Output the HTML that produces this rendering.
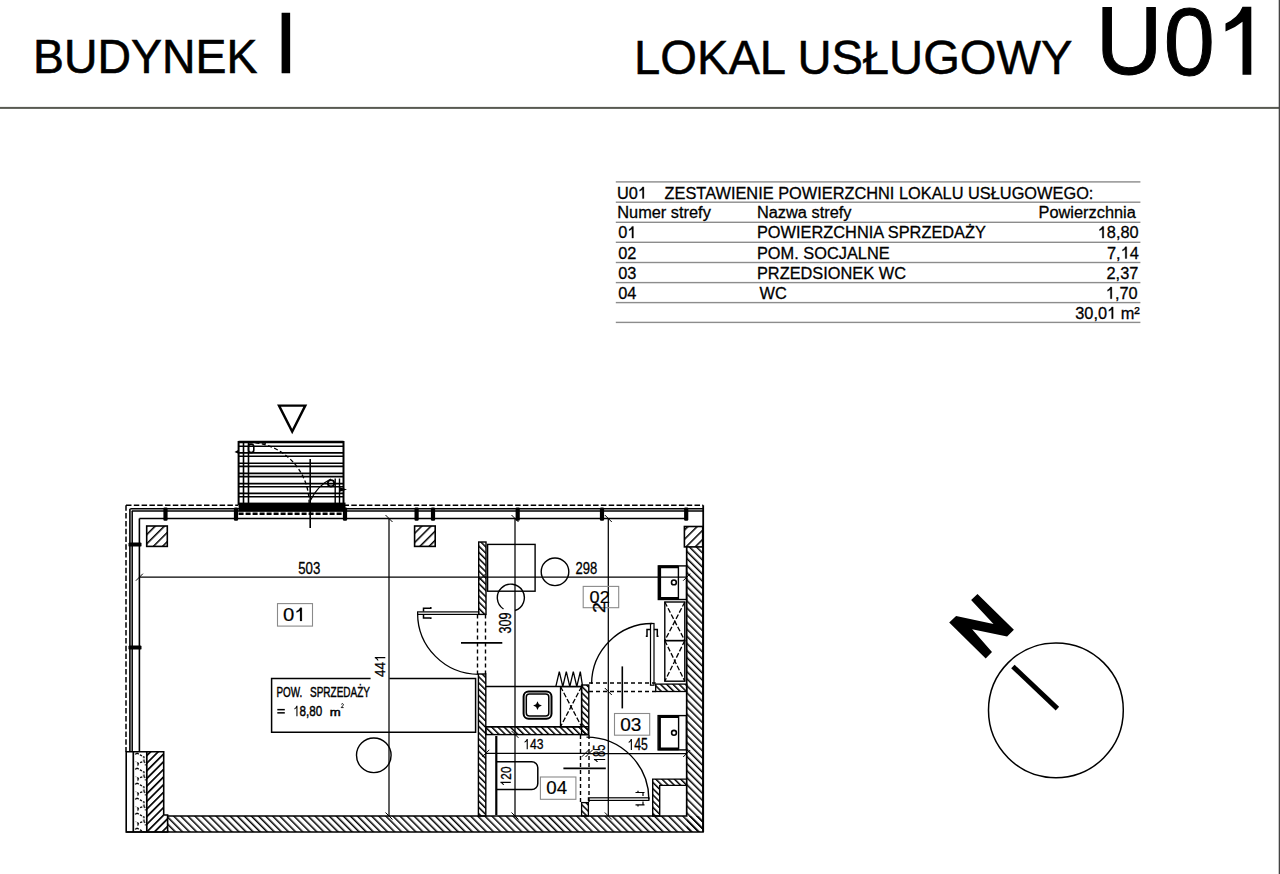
<!DOCTYPE html>
<html><head><meta charset="utf-8"><title>Budynek I - Lokal U01</title>
<style>html,body{margin:0;padding:0;background:#fff;width:1280px;height:874px;overflow:hidden;position:relative;font-family:"Liberation Sans",sans-serif}</style>
</head><body>
<svg width="1280" height="874" viewBox="0 0 1280 874" style="position:absolute;left:0;top:0" font-family="Liberation Sans, sans-serif"><defs>
<pattern id="hb" width="5" height="5" patternUnits="userSpaceOnUse" patternTransform="rotate(-45)"><rect x="0" y="0" width="1.5" height="5" fill="#000"/></pattern>
<pattern id="hf" width="5.4" height="5.4" patternUnits="userSpaceOnUse" patternTransform="rotate(45)"><rect x="0" y="0" width="1.7" height="5.4" fill="#000"/></pattern>
<pattern id="hs" width="4.4" height="4.4" patternUnits="userSpaceOnUse" patternTransform="rotate(-45)"><rect x="0" y="0" width="1.5" height="4.4" fill="#000"/></pattern>
<pattern id="hc" width="6.5" height="5" patternUnits="userSpaceOnUse" patternTransform="rotate(45)"><rect x="0" y="0" width="1.5" height="5" fill="#000"/></pattern>
<pattern id="conc" width="13.2" height="15" patternUnits="userSpaceOnUse" x="133.4" y="752"><path d="M3.5,1 L10.5,5 L10.5,9 L5,11.5 L2.5,9.5 M3.5,1 L1.5,3 M10.5,9 L12.5,13.5 M5,11.5 L4,15" fill="none" stroke="#000" stroke-width="1.3" stroke-dasharray="2.2 1.3"/></pattern>
</defs>
<text transform="matrix(0.9699,0,0,1,33.07,72.50)" font-size="47.85" fill="#000"  stroke="#000" stroke-width="0.6">BUDYNEK</text>
<text transform="matrix(1.0101,0,0,1,273.65,72.65)" font-size="86.69" fill="#000"  stroke="#000" stroke-width="0.3">I</text>
<text transform="matrix(0.9818,0,0,1,634.06,74.35)" font-size="48.03" fill="#000"  stroke="#000" stroke-width="0.5">LOKAL USŁUGOWY</text>
<text transform="matrix(0.9535,0,0,1,1095.73,74.20)" font-size="97.02" fill="#000"  stroke="#000" stroke-width="1.0">U</text>
<text transform="matrix(0.9479,0,0,1,1163.83,74.70)" font-size="96.77" fill="#000"  stroke="#000" stroke-width="1.0">0</text>
<path d="M1242.5,6.7 L1251.3,6.7 L1251.3,74.7 L1242.5,74.7 L1242.5,21.8 Q1235,28 1225.5,31.6 L1225.5,23.6 Q1231,21 1236,16.5 Q1240.5,12 1242.5,6.7 Z" fill="#000"/>
<rect x="0" y="106.9" width="1280" height="2" fill="#585a52"/>
<rect x="1278.7" y="0" width="1.3" height="874" fill="#444"/>
<rect x="615.8" y="181.2" width="524.6" height="1.4" fill="#8c8c8c"/>
<rect x="615.8" y="201.5" width="524.6" height="1.4" fill="#8c8c8c"/>
<rect x="615.8" y="221.6" width="524.6" height="1.4" fill="#8c8c8c"/>
<rect x="615.8" y="241.6" width="524.6" height="1.4" fill="#8c8c8c"/>
<rect x="615.8" y="261.8" width="524.6" height="1.4" fill="#8c8c8c"/>
<rect x="615.8" y="281.9" width="524.6" height="1.4" fill="#8c8c8c"/>
<rect x="615.8" y="301.9" width="524.6" height="1.4" fill="#8c8c8c"/>
<rect x="615.8" y="321.7" width="524.6" height="1.4" fill="#8c8c8c"/>
<g transform="matrix(0.9610,0,0,1,616.93,198.60)" fill="#000"><text x="0.000" y="0" font-size="17.020" style="white-space:pre" stroke="#000" stroke-width="0.300" >U0</text><path transform="translate(21.758,0) scale(17.020)" d="M0.280,-0.6875 L0.372,-0.6875 L0.372,0 L0.280,0 L0.280,-0.538 Q0.200,-0.476 0.109,-0.438 L0.109,-0.519 Q0.167,-0.546 0.220,-0.592 Q0.259,-0.634 0.280,-0.6875 Z" stroke="#000" stroke-width="0.0176"/></g>
<g transform="matrix(0.9610,0,0,1,664.57,198.60)" fill="#000"><text x="0.000" y="0" font-size="17.020" style="white-space:pre" stroke="#000" stroke-width="0.300" >ZESTAWIENIE POWIERZCHNI LOKALU USŁUGOWEGO:</text></g>
<g transform="matrix(0.9610,0,0,1,617.25,218.10)" fill="#000"><text x="0.000" y="0" font-size="17.020" style="white-space:pre" stroke="#000" stroke-width="0.300" >Numer strefy</text></g>
<g transform="matrix(0.9610,0,0,1,756.95,218.10)" fill="#000"><text x="0.000" y="0" font-size="17.020" style="white-space:pre" stroke="#000" stroke-width="0.300" >Nazwa strefy</text></g>
<g transform="matrix(0.9610,0,0,1,1038.54,218.10)" fill="#000"><text x="0.000" y="0" font-size="17.020" style="white-space:pre" stroke="#000" stroke-width="0.300" >Powierzchnia</text></g>
<g transform="matrix(0.9610,0,0,1,618.25,238.10)" fill="#000"><text x="0.000" y="0" font-size="17.020" style="white-space:pre" stroke="#000" stroke-width="0.300" >0</text><path transform="translate(9.466,0) scale(17.020)" d="M0.280,-0.6875 L0.372,-0.6875 L0.372,0 L0.280,0 L0.280,-0.538 Q0.200,-0.476 0.109,-0.438 L0.109,-0.519 Q0.167,-0.546 0.220,-0.592 Q0.259,-0.634 0.280,-0.6875 Z" stroke="#000" stroke-width="0.0176"/></g>
<g transform="matrix(0.9610,0,0,1,756.95,238.10)" fill="#000"><text x="0.000" y="0" font-size="17.020" style="white-space:pre" stroke="#000" stroke-width="0.300" >POWIERZCHNIA SPRZEDAŻY</text></g>
<g transform="matrix(0.9610,0,0,1,1097.70,238.10)" fill="#000"><path transform="translate(0.000,0) scale(17.020)" d="M0.280,-0.6875 L0.372,-0.6875 L0.372,0 L0.280,0 L0.280,-0.538 Q0.200,-0.476 0.109,-0.438 L0.109,-0.519 Q0.167,-0.546 0.220,-0.592 Q0.259,-0.634 0.280,-0.6875 Z" stroke="#000" stroke-width="0.0176"/><text x="9.466" y="0" font-size="17.020" style="white-space:pre" stroke="#000" stroke-width="0.300" >8,80</text></g>
<g transform="matrix(0.9610,0,0,1,618.25,258.50)" fill="#000"><text x="0.000" y="0" font-size="17.020" style="white-space:pre" stroke="#000" stroke-width="0.300" >02</text></g>
<g transform="matrix(0.9610,0,0,1,756.95,258.50)" fill="#000"><text x="0.000" y="0" font-size="17.020" style="white-space:pre" stroke="#000" stroke-width="0.300" >POM. SOCJALNE</text></g>
<g transform="matrix(0.9610,0,0,1,1107.03,258.50)" fill="#000"><text x="0.000" y="0" font-size="17.020" style="white-space:pre" stroke="#000" stroke-width="0.300" >7,</text><path transform="translate(14.195,0) scale(17.020)" d="M0.280,-0.6875 L0.372,-0.6875 L0.372,0 L0.280,0 L0.280,-0.538 Q0.200,-0.476 0.109,-0.438 L0.109,-0.519 Q0.167,-0.546 0.220,-0.592 Q0.259,-0.634 0.280,-0.6875 Z" stroke="#000" stroke-width="0.0176"/><text x="23.662" y="0" font-size="17.020" style="white-space:pre" stroke="#000" stroke-width="0.300" >4</text></g>
<g transform="matrix(0.9610,0,0,1,618.25,278.60)" fill="#000"><text x="0.000" y="0" font-size="17.020" style="white-space:pre" stroke="#000" stroke-width="0.300" >03</text></g>
<g transform="matrix(0.9610,0,0,1,756.95,278.60)" fill="#000"><text x="0.000" y="0" font-size="17.020" style="white-space:pre" stroke="#000" stroke-width="0.300" >PRZEDSIONEK WC</text></g>
<g transform="matrix(0.9610,0,0,1,1106.50,278.60)" fill="#000"><text x="0.000" y="0" font-size="17.020" style="white-space:pre" stroke="#000" stroke-width="0.300" >2,37</text></g>
<g transform="matrix(0.9610,0,0,1,618.25,298.70)" fill="#000"><text x="0.000" y="0" font-size="17.020" style="white-space:pre" stroke="#000" stroke-width="0.300" >04</text></g>
<g transform="matrix(0.9610,0,0,1,759.62,298.70)" fill="#000"><text x="0.000" y="0" font-size="17.020" style="white-space:pre" stroke="#000" stroke-width="0.300" >WC</text></g>
<g transform="matrix(0.9610,0,0,1,1105.80,298.70)" fill="#000"><path transform="translate(0.000,0) scale(17.020)" d="M0.280,-0.6875 L0.372,-0.6875 L0.372,0 L0.280,0 L0.280,-0.538 Q0.200,-0.476 0.109,-0.438 L0.109,-0.519 Q0.167,-0.546 0.220,-0.592 Q0.259,-0.634 0.280,-0.6875 Z" stroke="#000" stroke-width="0.0176"/><text x="9.466" y="0" font-size="17.020" style="white-space:pre" stroke="#000" stroke-width="0.300" >,70</text></g>
<g transform="matrix(0.9610,0,0,1,1075.24,318.70)" fill="#000"><text x="0.000" y="0" font-size="17.020" style="white-space:pre" stroke="#000" stroke-width="0.300" >30,0</text><path transform="translate(33.128,0) scale(17.020)" d="M0.280,-0.6875 L0.372,-0.6875 L0.372,0 L0.280,0 L0.280,-0.538 Q0.200,-0.476 0.109,-0.438 L0.109,-0.519 Q0.167,-0.546 0.220,-0.592 Q0.259,-0.634 0.280,-0.6875 Z" stroke="#000" stroke-width="0.0176"/><text x="42.594" y="0" font-size="17.020" style="white-space:pre" stroke="#000" stroke-width="0.300" > m²</text></g>
<line x1="238.6" y1="446.3" x2="343.5" y2="446.3" stroke="#000" stroke-width="1.6" />
<line x1="238.6" y1="452.9" x2="343.5" y2="452.9" stroke="#000" stroke-width="1.6" />
<line x1="238.6" y1="456.2" x2="343.5" y2="456.2" stroke="#000" stroke-width="1.6" />
<line x1="238.6" y1="463.2" x2="343.5" y2="463.2" stroke="#000" stroke-width="1.6" />
<line x1="238.6" y1="466.4" x2="343.5" y2="466.4" stroke="#000" stroke-width="1.6" />
<line x1="238.6" y1="473.4" x2="343.5" y2="473.4" stroke="#000" stroke-width="1.6" />
<line x1="238.6" y1="476.6" x2="343.5" y2="476.6" stroke="#000" stroke-width="1.6" />
<line x1="238.6" y1="483.6" x2="343.5" y2="483.6" stroke="#000" stroke-width="1.6" />
<line x1="238.6" y1="486.8" x2="343.5" y2="486.8" stroke="#000" stroke-width="1.6" />
<line x1="238.6" y1="493.4" x2="343.5" y2="493.4" stroke="#000" stroke-width="1.6" />
<line x1="238.6" y1="496.7" x2="343.5" y2="496.7" stroke="#000" stroke-width="1.6" />
<line x1="238.6" y1="442.0" x2="343.5" y2="442.0" stroke="#000" stroke-width="2.6" />
<rect x="238.6" y="502.6" width="106.90" height="8.80" fill="#000"/>
<line x1="238.6" y1="513.8" x2="343.5" y2="513.8" stroke="#000" stroke-width="2.4" stroke-dasharray="5 2"/>
<line x1="238.6" y1="441.0" x2="238.6" y2="505.0" stroke="#000" stroke-width="2.0" />
<line x1="343.5" y1="441.0" x2="343.5" y2="505.0" stroke="#000" stroke-width="2.0" />
<line x1="243.5" y1="442.0" x2="243.5" y2="503.0" stroke="#000" stroke-width="1.6" />
<line x1="248.5" y1="442.0" x2="248.5" y2="503.0" stroke="#000" stroke-width="1.6" />
<line x1="335.2" y1="478.5" x2="335.2" y2="504.8" stroke="#000" stroke-width="1.4" />
<line x1="339.5" y1="478.5" x2="339.5" y2="504.8" stroke="#000" stroke-width="1.4" />
<rect x="248.5" y="444.2" width="5.3" height="8.4" rx="2.6" fill="none" stroke="#000" stroke-width="1.6"/>
<circle cx="331" cy="483.3" r="3.2" fill="none" stroke="#000" stroke-width="1.8"/>
<path d="M239,449.5 L234.5,452 L239,454 Z" fill="#000"/>
<path d="M339,487 L347,489.5 L339,492 Z" fill="#000"/>
<path d="M249,442.5 A60.5,60.5 0 0 1 309.1,503" fill="none" stroke="#000" stroke-width="1.3" stroke-dasharray="4 2.5"/>
<path d="M310.4,500.5 Q318,485 331,479" fill="none" stroke="#000" stroke-width="1.3"/>
<path d="M249,442.5 Q258,441.5 266,443" fill="none" stroke="#000" stroke-width="2"/>
<line x1="310.2" y1="459.1" x2="310.2" y2="527.9" stroke="#000" stroke-width="1.6" />
<path d="M279,405.6 L305.3,405.6 L292.2,431.5 Z" fill="none" stroke="#000" stroke-width="2.4" stroke-linejoin="miter"/>
<line x1="126" y1="505.3" x2="238.3" y2="505.3" stroke="#000" stroke-width="1.5" stroke-dasharray="5.5 2.3"/>
<line x1="343.5" y1="505.3" x2="703.2" y2="505.3" stroke="#000" stroke-width="1.5" stroke-dasharray="5.5 2.3"/>
<line x1="126" y1="505.3" x2="126" y2="751.7" stroke="#000" stroke-width="1.5" stroke-dasharray="5.5 2.3"/>
<line x1="130.3" y1="508.8" x2="703" y2="508.8" stroke="#000" stroke-width="1.6" />
<line x1="131.8" y1="511.1" x2="703" y2="511.1" stroke="#000" stroke-width="1.5" />
<line x1="139.4" y1="518.5" x2="686.7" y2="518.5" stroke="#000" stroke-width="1.6" />
<line x1="129.9" y1="508.8" x2="129.9" y2="751.7" stroke="#000" stroke-width="1.6" />
<line x1="132.2" y1="511.1" x2="132.2" y2="751.7" stroke="#000" stroke-width="1.5" />
<line x1="139.4" y1="518.5" x2="139.4" y2="751.7" stroke="#000" stroke-width="1.6" />
<rect x="163.4" y="507.4" width="4.2" height="13.3" rx="1.2" fill="#000"/>
<rect x="233.9" y="507.4" width="4.2" height="13.3" rx="1.2" fill="#000"/>
<rect x="342.9" y="507.4" width="4.2" height="13.3" rx="1.2" fill="#000"/>
<rect x="414.5" y="507.4" width="4.2" height="13.3" rx="1.2" fill="#000"/>
<rect x="430.9" y="507.4" width="4.2" height="13.3" rx="1.2" fill="#000"/>
<rect x="515.6" y="507.4" width="4.2" height="13.3" rx="1.2" fill="#000"/>
<rect x="599.9" y="507.4" width="4.2" height="13.3" rx="1.2" fill="#000"/>
<rect x="684.1" y="507.4" width="4.2" height="13.3" rx="1.2" fill="#000"/>
<rect x="128.5" y="542.4" width="13.0" height="4.2" rx="1.2" fill="#000"/>
<rect x="128.5" y="645.4" width="13.0" height="4.2" rx="1.2" fill="#000"/>
<line x1="703.2" y1="505.3" x2="703.2" y2="832" stroke="#000" stroke-width="1.8" />
<rect x="146.7" y="526.0" width="20.6" height="20.4" fill="url(#hc)" stroke="#000" stroke-width="1.6"/>
<rect x="414.6" y="526.0" width="20.6" height="20.4" fill="url(#hc)" stroke="#000" stroke-width="1.6"/>
<rect x="684.4" y="526.5" width="18.3" height="20.4" fill="url(#hc)" stroke="#000" stroke-width="1.6"/>
<rect x="126.2" y="751.7" width="40.00" height="80.30" fill="#fff"/>
<rect x="133.4" y="751.7" width="13.2" height="80.3" fill="url(#conc)"/>
<path d="M146.6,751.7 L163.7,751.7 L163.7,816 L167.6,816 L167.6,832 L146.6,832 Z" fill="url(#hf)"/>
<path d="M126.2,751.7 L163.7,751.7 L163.7,815 L167.6,815 L167.6,832 L126.2,832 Z" fill="none" stroke="#000" stroke-width="1.6"/>
<line x1="133.3" y1="751.7" x2="133.3" y2="832" stroke="#000" stroke-width="1.7" />
<line x1="146.8" y1="751.7" x2="146.8" y2="832" stroke="#000" stroke-width="1.7" />
<rect x="167.6" y="816" width="535.4" height="16" fill="url(#hb)"/>
<rect x="686.7" y="546.6" width="16.3" height="285.4" fill="url(#hb)"/>
<path d="M167.6,816 L686.7,816 L686.7,546.6 M703,546.6 L703,832 L126.2,832" fill="none" stroke="#000" stroke-width="1.7"/>
<rect x="478.7" y="542.0" width="7.30" height="72.40" fill="url(#hs)" stroke="#000" stroke-width="1.4"/>
<rect x="478.4" y="674.0" width="7.40" height="142.00" fill="url(#hs)" stroke="#000" stroke-width="1.4"/>
<line x1="477.5" y1="614.4" x2="477.5" y2="674" stroke="#000" stroke-width="1.4" stroke-dasharray="4 3"/>
<line x1="485.5" y1="614.4" x2="485.5" y2="674" stroke="#000" stroke-width="1.4" stroke-dasharray="4 3"/>
<rect x="417.6" y="611.9" width="61.10" height="2.50" fill="none" stroke="#000" stroke-width="1.2" />
<path d="M417.6,613.2 A61.1,61.1 0 0 0 478.7,674.3" fill="none" stroke="#000" stroke-width="1.3"/>
<path d="M423.5,611.4 L423.5,608.2 L430.8,608.2 L430.8,607.0 M423.5,614.3 L423.5,617.9 L430.8,617.9 L430.8,619.1" fill="none" stroke="#000" stroke-width="1.5"/>
<line x1="461.0" y1="642.8" x2="502.3" y2="642.8" stroke="#000" stroke-width="1.7" />
<path d="M370.6,678.4 L271.6,678.4 L271.6,732.3 L475.6,732.3 L475.6,678.4 L389.4,678.4" fill="none" stroke="#000" stroke-width="1.5"/>
<circle cx="373.8" cy="755.3" r="17.3" fill="none" stroke="#000" stroke-width="1.4"/>
<circle cx="555" cy="571.8" r="13.8" fill="none" stroke="#000" stroke-width="1.4"/>
<path d="M503.5,609 A13.5,13.5 0 1 1 515,610.5" fill="none" stroke="#000" stroke-width="1.4"/>
<rect x="487.6" y="544.4" width="47.50" height="46.80" fill="none" stroke="#000" stroke-width="1.4" />
<line x1="139.4" y1="577.2" x2="686.7" y2="577.2" stroke="#000" stroke-width="1.25" />
<line x1="389.0" y1="518.5" x2="389.0" y2="816" stroke="#000" stroke-width="1.25" />
<line x1="515.0" y1="518.5" x2="515.0" y2="816" stroke="#000" stroke-width="1.25" />
<line x1="608.3" y1="518.5" x2="608.3" y2="816" stroke="#000" stroke-width="1.25" />
<line x1="485.8" y1="753.3" x2="589" y2="753.3" stroke="#000" stroke-width="1.25" />
<line x1="589" y1="753.5" x2="686.7" y2="753.5" stroke="#000" stroke-width="1.25" />
<line x1="135.9" y1="580.7" x2="142.9" y2="573.7" stroke="#000" stroke-width="1.0" />
<line x1="478.8" y1="580.7" x2="485.8" y2="573.7" stroke="#000" stroke-width="1.0" />
<line x1="683.2" y1="580.7" x2="690.2" y2="573.7" stroke="#000" stroke-width="1.0" />
<line x1="482.3" y1="756.8" x2="489.3" y2="749.8" stroke="#000" stroke-width="1.0" />
<line x1="581.8" y1="756.8" x2="588.8" y2="749.8" stroke="#000" stroke-width="1.0" />
<line x1="585.5" y1="757.0" x2="592.5" y2="750.0" stroke="#000" stroke-width="1.0" />
<line x1="683.2" y1="757.0" x2="690.2" y2="750.0" stroke="#000" stroke-width="1.0" />
<line x1="385.5" y1="515.0" x2="392.5" y2="522.0" stroke="#000" stroke-width="1.0" />
<line x1="385.5" y1="812.5" x2="392.5" y2="819.5" stroke="#000" stroke-width="1.0" />
<line x1="511.5" y1="515.0" x2="518.5" y2="522.0" stroke="#000" stroke-width="1.0" />
<line x1="511.5" y1="812.5" x2="518.5" y2="819.5" stroke="#000" stroke-width="1.0" />
<line x1="604.8" y1="515.0" x2="611.8" y2="522.0" stroke="#000" stroke-width="1.0" />
<line x1="604.8" y1="812.5" x2="611.8" y2="819.5" stroke="#000" stroke-width="1.0" />
<line x1="511.5" y1="730.9" x2="518.5" y2="737.9" stroke="#000" stroke-width="1.0" />
<line x1="604.8" y1="688.0" x2="611.8" y2="695.0" stroke="#000" stroke-width="1.0" />
<line x1="485.8" y1="686.6" x2="581.6" y2="686.6" stroke="#000" stroke-width="1.5" />
<line x1="485.8" y1="726.7" x2="581.6" y2="726.7" stroke="#000" stroke-width="1.5" />
<rect x="523.6" y="691.4" width="27.9" height="27.4" rx="5" fill="none" stroke="#000" stroke-width="2.0"/>
<rect x="526.3" y="694.1" width="22.5" height="22.0" rx="3" fill="none" stroke="#000" stroke-width="1.5"/>
<path d="M537.5,701.2 L538.9,704.2 L541.9,705.6 L538.9,707.0 L537.5,710.0 L536.1,707.0 L533.1,705.6 L536.1,704.2 Z" fill="#000"/>
<rect x="560.5" y="686.6" width="21.10" height="40.10" fill="none" stroke="#000" stroke-width="1.3" />
<line x1="560.5" y1="686.6" x2="581.6" y2="726.7" stroke="#000" stroke-width="1.3" stroke-dasharray="5 2"/>
<line x1="581.6" y1="686.6" x2="560.5" y2="726.7" stroke="#000" stroke-width="1.3" stroke-dasharray="5 2"/>
<path d="M555.8,686.6 L559.3,671.6 L562.8,686.6 L566.3,671.6 L569.8,686.6 L573.3,671.6 L576.8,686.6 L580.3,671.6 L582.6,686.6" fill="none" stroke="#000" stroke-width="1.3"/>
<rect x="485.8" y="726.7" width="102.50" height="7.90" fill="url(#hs)" stroke="#000" stroke-width="1.4"/>
<rect x="581.6" y="685.0" width="7.20" height="49.60" fill="url(#hs)" stroke="#000" stroke-width="1.4"/>
<line x1="496.3" y1="736" x2="496.3" y2="815" stroke="#000" stroke-width="2.2" />
<path d="M496.3,761.8 L531.8,761.8 A6,6 0 0 1 537.8,767.8 L537.8,783.5 A6,6 0 0 1 531.8,789.5 L496.3,789.5" fill="none" stroke="#000" stroke-width="1.5"/>
<line x1="580.5" y1="735" x2="580.5" y2="802.6" stroke="#000" stroke-width="1.4" stroke-dasharray="4 3"/>
<line x1="589.0" y1="735" x2="589.0" y2="802.6" stroke="#000" stroke-width="1.4" stroke-dasharray="4 3"/>
<rect x="581.6" y="802.6" width="6.80" height="13.40" fill="url(#hs)" stroke="#000" stroke-width="1.3"/>
<rect x="588.4" y="797.8" width="60.50" height="2.60" fill="none" stroke="#000" stroke-width="1.2" />
<path d="M586.5,737.1 A62.4,62.4 0 0 1 648.9,799.5" fill="none" stroke="#000" stroke-width="1.4"/>
<path d="M635.5,792.5 L644.5,792.5 M643,792.5 L643,796 M638,792.5 L638,790.8 M635.5,804.8 L644.5,804.8 M643,801.5 L643,804.8 M638,804.8 L638,806.5" fill="none" stroke="#000" stroke-width="1.2"/>
<line x1="563.4" y1="768.4" x2="605.8" y2="768.4" stroke="#000" stroke-width="1.6" />
<rect x="658.1" y="715.6" width="28.3" height="34.3" fill="none" stroke="#000" stroke-width="1.4"/>
<path d="M678.6,716.6 L659.6,716.6 L659.6,748.9 L678.6,748.9" fill="none" stroke="#000" stroke-width="2.6"/>
<line x1="678.6" y1="715.6" x2="678.6" y2="749.9" stroke="#000" stroke-width="1.4" />
<circle cx="674" cy="732.8" r="2.4" fill="none" stroke="#000" stroke-width="1.6"/>
<path d="M686.7,779.1 L652.7,779.1 L652.7,816 L659.7,816 L659.7,785.4 L686.7,785.4" fill="url(#hs)" stroke="#000" stroke-width="1.4"/>
<line x1="622.3" y1="666.4" x2="622.3" y2="708.4" stroke="#000" stroke-width="1.6" />
<rect x="650.5" y="623.5" width="3.50" height="61.70" fill="none" stroke="#000" stroke-width="1.2" />
<path d="M652.2,623.5 A60.6,60.6 0 0 0 591.6,684" fill="none" stroke="#000" stroke-width="1.3"/>
<path d="M650.8,629.4 L647,629.4 L647,636.3 L645.8,636.3 M653.9,629.4 L657.3,629.4 L657.3,636.3 L658.5,636.3" fill="none" stroke="#000" stroke-width="1.5"/>
<line x1="589" y1="683" x2="655.7" y2="683" stroke="#000" stroke-width="1.4" stroke-dasharray="4 3"/>
<line x1="589" y1="691.5" x2="655.7" y2="691.5" stroke="#000" stroke-width="1.4" stroke-dasharray="4 3"/>
<rect x="655.7" y="684.1" width="31.00" height="7.40" fill="url(#hs)" stroke="#000" stroke-width="1.3"/>
<rect x="664.8" y="602" width="20.00" height="38.60" fill="none" stroke="#000" stroke-width="1.4" />
<rect x="664.8" y="640.6" width="20.00" height="40.60" fill="none" stroke="#000" stroke-width="1.4" />
<line x1="664.8" y1="602" x2="684.8" y2="640.6" stroke="#000" stroke-width="1.3" stroke-dasharray="5 2"/>
<line x1="684.8" y1="602" x2="664.8" y2="640.6" stroke="#000" stroke-width="1.3" stroke-dasharray="5 2"/>
<line x1="664.8" y1="640.6" x2="684.8" y2="681.2" stroke="#000" stroke-width="1.3" stroke-dasharray="5 2"/>
<line x1="684.8" y1="640.6" x2="664.8" y2="681.2" stroke="#000" stroke-width="1.3" stroke-dasharray="5 2"/>
<rect x="658.3" y="565.9" width="28.2" height="33.6" fill="none" stroke="#000" stroke-width="1.4"/>
<path d="M678.4,566.9 L659.8,566.9 L659.8,598.4 L678.4,598.4" fill="none" stroke="#000" stroke-width="2.6"/>
<line x1="678.4" y1="566" x2="678.4" y2="599.5" stroke="#000" stroke-width="1.4" />
<circle cx="673.9" cy="582.4" r="2.4" fill="none" stroke="#000" stroke-width="1.6"/>
<rect x="277.5" y="603.6" width="35.0" height="22.5" fill="none" stroke="#8a8a8a" stroke-width="1.1"/>
<rect x="583.2" y="586.4" width="35.5" height="21.3" fill="none" stroke="#8a8a8a" stroke-width="1.1"/>
<rect x="614.5" y="713.5" width="35.2" height="21.7" fill="none" stroke="#8a8a8a" stroke-width="1.1"/>
<rect x="540.4" y="777.0" width="35.5" height="22.3" fill="none" stroke="#8a8a8a" stroke-width="1.1"/>
<g transform="matrix(1.0578,0,0,1,283.04,621.00)" fill="#000"><text x="0.000" y="0" font-size="19.211" style="white-space:pre" stroke="#000" stroke-width="0.200" >0</text><path transform="translate(10.685,0) scale(19.211)" d="M0.280,-0.6875 L0.372,-0.6875 L0.372,0 L0.280,0 L0.280,-0.538 Q0.200,-0.476 0.109,-0.438 L0.109,-0.519 Q0.167,-0.546 0.220,-0.592 Q0.259,-0.634 0.280,-0.6875 Z" stroke="#000" stroke-width="0.0104"/></g>
<g transform="matrix(1.0145,0,0,1,620.24,731.20)" fill="#000"><text x="0.000" y="0" font-size="18.781" style="white-space:pre" stroke="#000" stroke-width="0.200" >03</text></g>
<g transform="matrix(1.0181,0,0,1,546.35,793.90)" fill="#000"><text x="0.000" y="0" font-size="18.351" style="white-space:pre" stroke="#000" stroke-width="0.200" >04</text></g>
<g transform="matrix(1.0443,0,0,1,589.58,602.60)" fill="#000"><text x="0.000" y="0" font-size="17.348" style="white-space:pre" stroke="#000" stroke-width="0.200" >02</text></g>
<g transform="matrix(0.8179,0,0,1,298.17,573.70)" fill="#000"><text x="0.000" y="0" font-size="16.201" style="white-space:pre" stroke="#000" stroke-width="0.3">503</text></g>
<g transform="matrix(0.8107,0,0,1,575.45,574.00)" fill="#000"><text x="0.000" y="0" font-size="16.057" style="white-space:pre" stroke="#000" stroke-width="0.3">298</text></g>
<g transform="matrix(0.8063,0,0,1,523.28,749.30)" fill="#000"><path transform="translate(0.000,0) scale(15.054)" d="M0.280,-0.6875 L0.372,-0.6875 L0.372,0 L0.280,0 L0.280,-0.538 Q0.200,-0.476 0.109,-0.438 L0.109,-0.519 Q0.167,-0.546 0.220,-0.592 Q0.259,-0.634 0.280,-0.6875 Z"/><text x="8.372" y="0" font-size="15.054" style="white-space:pre" stroke="#000" stroke-width="0.3">43</text></g>
<g transform="matrix(0.7727,0,0,1,627.36,749.90)" fill="#000"><path transform="translate(0.000,0) scale(15.855)" d="M0.280,-0.6875 L0.372,-0.6875 L0.372,0 L0.280,0 L0.280,-0.538 Q0.200,-0.476 0.109,-0.438 L0.109,-0.519 Q0.167,-0.546 0.220,-0.592 Q0.259,-0.634 0.280,-0.6875 Z"/><text x="8.818" y="0" font-size="15.855" style="white-space:pre" stroke="#000" stroke-width="0.3">45</text></g>
<g transform="matrix(0,-0.8824,1,0,385.30,676.90)" fill="#000"><text x="0.000" y="0" font-size="15.273" style="white-space:pre" stroke="#000" stroke-width="0.3">44</text><path transform="translate(16.989,0) scale(15.273)" d="M0.280,-0.6875 L0.372,-0.6875 L0.372,0 L0.280,0 L0.280,-0.538 Q0.200,-0.476 0.109,-0.438 L0.109,-0.519 Q0.167,-0.546 0.220,-0.592 Q0.259,-0.634 0.280,-0.6875 Z"/></g>
<g transform="matrix(0,-0.7930,1,0,511.40,633.47)" fill="#000"><text x="0.000" y="0" font-size="15.914" style="white-space:pre" stroke="#000" stroke-width="0.3">309</text></g>
<g transform="matrix(0,-0.7818,1,0,510.80,786.18)" fill="#000"><path transform="translate(0.000,0) scale(15.054)" d="M0.280,-0.6875 L0.372,-0.6875 L0.372,0 L0.280,0 L0.280,-0.538 Q0.200,-0.476 0.109,-0.438 L0.109,-0.519 Q0.167,-0.546 0.220,-0.592 Q0.259,-0.634 0.280,-0.6875 Z"/><text x="8.372" y="0" font-size="15.054" style="white-space:pre" stroke="#000" stroke-width="0.3">20</text></g>
<g transform="matrix(0,-0.6810,1,0,605.20,763.11)" fill="#000"><path transform="translate(0.000,0) scale(16.344)" d="M0.280,-0.6875 L0.372,-0.6875 L0.372,0 L0.280,0 L0.280,-0.538 Q0.200,-0.476 0.109,-0.438 L0.109,-0.519 Q0.167,-0.546 0.220,-0.592 Q0.259,-0.634 0.280,-0.6875 Z"/><text x="9.090" y="0" font-size="16.344" style="white-space:pre" stroke="#000" stroke-width="0.3">85</text></g>
<g transform="matrix(0,-1.2429,1,0,604.80,612.99)" fill="#000"><text x="0.000" y="0" font-size="15.914" style="white-space:pre" stroke="#000" stroke-width="0.3">2</text></g>
<g transform="matrix(0.6643,0,0,1,276.48,696.80)" fill="#000"><text x="0.000" y="0" font-size="14.910" style="white-space:pre" stroke="#000" stroke-width="0.45">POW.</text></g>
<g transform="matrix(0.6725,0,0,1,309.95,696.80)" fill="#000"><text x="0.000" y="0" font-size="14.910" style="white-space:pre" stroke="#000" stroke-width="0.45">SPRZEDAŻY</text></g>
<rect x="277.3" y="708.9" width="7.5" height="1.5" fill="#000"/><rect x="277.3" y="712.1" width="7.5" height="1.5" fill="#000"/>
<g transform="matrix(0.7542,0,0,1,293.13,716.30)" fill="#000"><path transform="translate(0.000,0) scale(15.484)" d="M0.280,-0.6875 L0.372,-0.6875 L0.372,0 L0.280,0 L0.280,-0.538 Q0.200,-0.476 0.109,-0.438 L0.109,-0.519 Q0.167,-0.546 0.220,-0.592 Q0.259,-0.634 0.280,-0.6875 Z"/><text x="8.612" y="0" font-size="15.484" style="white-space:pre" stroke="#000" stroke-width="0.45">8,80</text></g>
<g transform="matrix(1.3095,0,0,1,329.81,716.30)" fill="#000"><text x="0.000" y="0" font-size="10.036" style="white-space:pre" stroke="#000" stroke-width="0.45">m</text></g>
<path d="M341.3,704.3 Q342.6,702.8 343.4,704.3 Q343.4,705.4 341.2,707.6 L343.6,707.6" fill="none" stroke="#000" stroke-width="0.9"/>
<circle cx="1055.9" cy="710.3" r="67.4" fill="none" stroke="#000" stroke-width="1.5"/>
<line x1="1012.9" y1="666.5" x2="1057.4" y2="708.6" stroke="#000" stroke-width="5"/>
<path d="M977.5,594.0 L1013.9,629.7 L1007.1,636.6 L972.1,629.3 L992.0,652.1 L985.7,658.4 L949.2,622.5 L956.1,616.1 L993.5,623.9 L971.1,600.1 Z" fill="#000"/>
</svg>
</body></html>
